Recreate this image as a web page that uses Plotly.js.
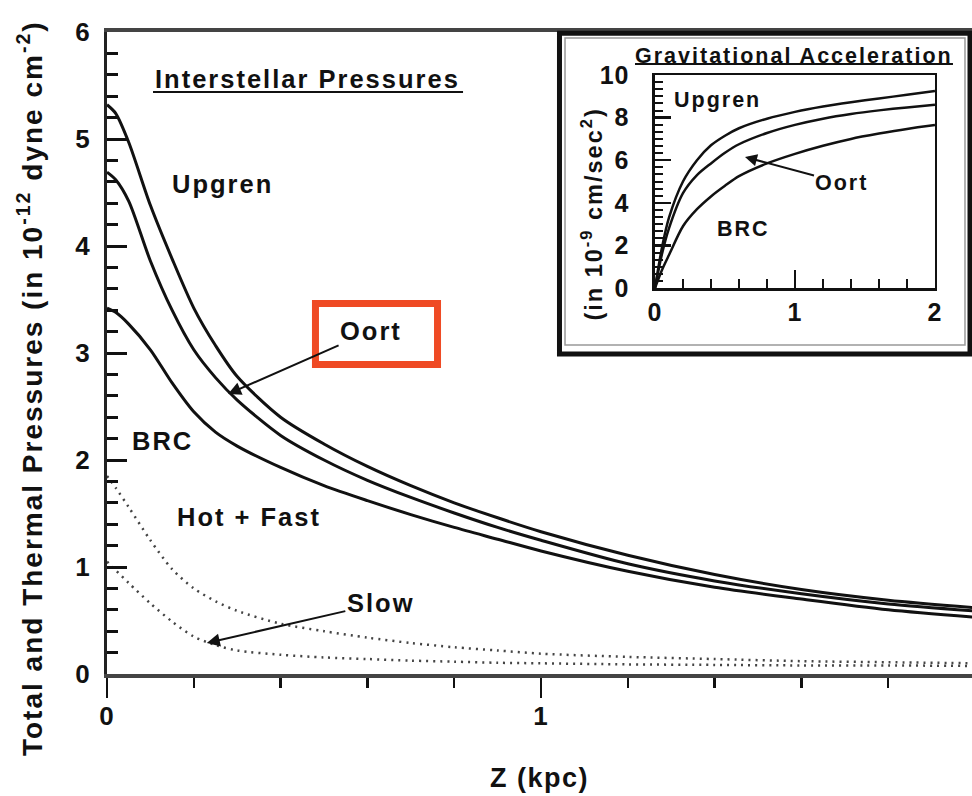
<!DOCTYPE html>
<html><head><meta charset="utf-8">
<script src="https://cdn.plot.ly/plotly-3.0.1.min.js"></script>
<style>
html,body{margin:0;padding:0;background:#fff;}
text.annotation-text{letter-spacing:2px;}
text.ytitle,text.xtitle,text.y2title{letter-spacing:1.5px;}
.xtick text,.ytick text,.x2tick text,.y2tick text{letter-spacing:1px;}
</style></head><body>
<div id="chart" style="width:972px;height:796px;"></div>
<script>
// Main panel: pressure vs height z (kpc)
const zMain   = [0, 0.02, 0.05, 0.1, 0.15, 0.2, 0.25, 0.3, 0.4, 0.5, 0.6, 0.7, 0.8, 0.9, 1.0, 1.2, 1.4, 1.6, 1.8, 2.0];
const pUpgren = [5.32, 5.24, 4.97, 4.38, 3.88, 3.42, 3.07, 2.78, 2.40, 2.15, 1.94, 1.76, 1.60, 1.46, 1.33, 1.11, 0.93, 0.79, 0.69, 0.62];
const pOort   = [4.69, 4.62, 4.42, 3.86, 3.40, 3.03, 2.77, 2.56, 2.23, 2.00, 1.81, 1.65, 1.505, 1.37, 1.25, 1.03, 0.87, 0.75, 0.655, 0.59];
const pBRC    = [3.42, 3.38, 3.27, 3.03, 2.72, 2.45, 2.26, 2.13, 1.93, 1.76, 1.62, 1.49, 1.37, 1.26, 1.15, 0.96, 0.81, 0.70, 0.60, 0.53];
const pHotFast= [1.85, 1.74, 1.56, 1.25, 0.98, 0.80, 0.68, 0.59, 0.47, 0.40, 0.34, 0.29, 0.25, 0.22, 0.19, 0.16, 0.14, 0.12, 0.11, 0.10];
const pSlow   = [1.05, 0.97, 0.85, 0.66, 0.49, 0.35, 0.27, 0.22, 0.18, 0.155, 0.14, 0.125, 0.115, 0.105, 0.10, 0.09, 0.085, 0.08, 0.08, 0.075];

// Inset: gravitational acceleration vs z (kpc)
const zInset  = [0, 0.05, 0.1, 0.2, 0.3, 0.4, 0.5, 0.6, 0.8, 1.0, 1.2, 1.4, 1.6, 1.8, 2.0];
const gUpgren = [0, 1.9, 3.3, 5.0, 6.0, 6.7, 7.15, 7.5, 7.95, 8.27, 8.52, 8.72, 8.9, 9.07, 9.25];
const gOort   = [0, 1.6, 2.8, 4.45, 5.3, 5.85, 6.35, 6.75, 7.28, 7.66, 7.95, 8.17, 8.34, 8.48, 8.6];
const gBRC    = [0, 0.85, 1.55, 2.9, 3.7, 4.3, 4.8, 5.25, 5.85, 6.3, 6.68, 7.0, 7.25, 7.47, 7.65];

const FONT = '"Liberation Sans", Arial, Helvetica, sans-serif';
const INK = '#111';

function solid(x, y, name, xa, ya, w) {
  return {x: x, y: y, name: name, type: 'scatter', mode: 'lines', xaxis: xa, yaxis: ya,
    line: {color: INK, width: w, shape: 'spline', smoothing: 0.8}, hoverinfo: 'skip'};
}
function dotted(x, y, name) {
  return {x: x, y: y, name: name, type: 'scatter', mode: 'lines', xaxis: 'x', yaxis: 'y',
    line: {color: '#444', width: 2.5, dash: '2px,5px', shape: 'spline', smoothing: 0.8}, hoverinfo: 'skip'};
}

const traces = [
  solid(zMain, pUpgren, 'Upgren', 'x', 'y', 3),
  solid(zMain, pOort, 'Oort', 'x', 'y', 3),
  solid(zMain, pBRC, 'BRC', 'x', 'y', 3),
  dotted(zMain, pHotFast, 'Hot + Fast'),
  dotted(zMain, pSlow, 'Slow'),
  solid(zInset, gUpgren, 'Upgren', 'x2', 'y2', 2.5),
  solid(zInset, gOort, 'Oort', 'x2', 'y2', 2.5),
  solid(zInset, gBRC, 'BRC', 'x2', 'y2', 2.5)
];

const tickFont = {family: FONT, size: 26, weight: 700, color: INK};
const insetTickFont = {family: FONT, size: 25, weight: 700, color: INK};

function ann(text, x, y, size, extra) {
  return Object.assign({text: text, x: x, y: y, xref: 'paper', yref: 'paper', showarrow: false,
    xanchor: 'center', yanchor: 'middle', font: {family: FONT, size: size, weight: 700, color: INK}}, extra || {});
}

const layout = {
  width: 972, height: 796,
  margin: {l: 107, r: 0, t: 32, b: 122, pad: 0},
  paper_bgcolor: '#ffffff', plot_bgcolor: 'rgba(0,0,0,0)',
  showlegend: false,
  font: {family: FONT, size: 25, color: INK},
  xaxis: {
    domain: [0, 1], range: [0, 1.993], anchor: 'y',
    showline: true, linecolor: '#444', linewidth: 4, mirror: true,
    showgrid: false, zeroline: false,
    ticks: 'outside', tick0: 0, dtick: 1, ticklen: 20, tickwidth: 2.5, tickcolor: INK,
    minor: {dtick: 0.2, ticks: 'outside', ticklen: 10, tickwidth: 2.5, tickcolor: INK, showgrid: false},
    tickfont: tickFont, ticklabelstandoff: -4,
    title: {text: 'Z (kpc)', font: {family: FONT, size: 27, weight: 700, color: INK}, standoff: 39}
  },
  yaxis: {
    domain: [0, 1], range: [0, 6], anchor: 'x',
    showline: true, linecolor: '#222', linewidth: 3, mirror: false,
    showgrid: false, zeroline: false,
    ticks: 'inside', tick0: 0, dtick: 1, ticklen: 20, tickwidth: 3, tickcolor: INK,
    minor: {dtick: 0.2, ticks: 'inside', ticklen: 11, tickwidth: 3, tickcolor: INK, showgrid: false},
    tickfont: tickFont, ticklabelstandoff: 8
  },
  xaxis2: {
    domain: [0.6335, 0.9572], range: [0, 2], anchor: 'y2',
    showline: true, linecolor: INK, linewidth: 2.5, mirror: true,
    showgrid: false, zeroline: false,
    ticks: 'inside', tick0: 0, dtick: 1, ticklen: 18, tickwidth: 2.5, tickcolor: INK,
    minor: {dtick: 0.2, ticks: 'inside', ticklen: 9, tickwidth: 2.5, tickcolor: INK, showgrid: false},
    tickfont: insetTickFont, ticklabelstandoff: 0
  },
  yaxis2: {
    domain: [0.6012, 0.9330], range: [0, 10], anchor: 'x2',
    showline: true, linecolor: INK, linewidth: 2.5, mirror: true,
    showgrid: false, zeroline: false,
    ticks: 'inside', tick0: 0, dtick: 2, ticklen: 16, tickwidth: 2.5, tickcolor: INK,
    minor: {dtick: 0.3333333, ticks: 'inside', ticklen: 8, tickwidth: 2, tickcolor: INK, showgrid: false},
    tickfont: insetTickFont, ticklabelstandoff: 18
  },
  shapes: [
    // inset frame: thick outer border and thin inner border
    {type: 'rect', xref: 'paper', yref: 'paper', x0: 0.5231, x1: 0.9977, y0: 0.4984, y1: 0.998,
     line: {color: '#111', width: 5}, layer: 'above'},
    {type: 'rect', xref: 'paper', yref: 'paper', x0: 0.5295, x1: 0.9919, y0: 0.5125, y1: 0.9907,
     line: {color: '#999', width: 1.5}, layer: 'above'},
    // title underlines
    {type: 'line', xref: 'paper', yref: 'paper', x0: 0.0532, x1: 0.4116, y0: 0.9065, y1: 0.9065,
     line: {color: INK, width: 2}},
    {type: 'line', xref: 'paper', yref: 'paper', x0: 0.6104, x1: 0.978, y0: 0.9502, y1: 0.9502,
     line: {color: INK, width: 2}},
    // orange highlight box around the Oort label
    {type: 'rect', xref: 'paper', yref: 'paper', x0: 0.2410, x1: 0.3821, y0: 0.4821, y1: 0.5771,
     line: {color: '#EF4A24', width: 7}, layer: 'above'}
  ],
  annotations: [
    // y-axis titles (placed as rotated text to match the original offset)
    ann('Total and Thermal Pressures (in 10<sup>-12</sup> dyne cm<sup>-2</sup>)', -0.089, 0.4455, 28, {textangle: -90}),
    ann('(in 10<sup>-9</sup> cm/sec<sup>2</sup>)', 0.5607, 0.7157, 23.5, {textangle: -90}),
    ann('Interstellar Pressures', 0.2318, 0.9268, 25.5),
    ann('Upgren', 0.1335, 0.7632, 25.5),
    ann('BRC', 0.0642, 0.3629, 25.5),
    ann('Hot + Fast', 0.1642, 0.2445, 25.5),
    {text: 'Slow', x: 0.23, y: 0.29, xref: 'x', yref: 'y', showarrow: true, ax: 174, ay: -40,
     arrowhead: 2, arrowsize: 1.3, arrowwidth: 2, arrowcolor: INK, standoff: 0,
     font: {family: FONT, size: 25.5, weight: 700, color: INK}},
    {text: 'Oort', x: 0.279, y: 2.617, xref: 'x', yref: 'y', showarrow: true, ax: 143, ay: -63,
     arrowhead: 2, arrowsize: 1.3, arrowwidth: 2, arrowcolor: INK, standoff: 0,
     font: {family: FONT, size: 25.5, weight: 700, color: INK}},
    ann('Gravitational Acceleration', 0.7942, 0.9626, 21.5),
    ann('Upgren', 0.7058, 0.8941, 21.5),
    ann('BRC', 0.7364, 0.6939, 21.5),
    {text: 'Oort', x: 0.643, y: 6.15, xref: 'x2', yref: 'y2', showarrow: true, ax: 97, ay: 26,
     arrowhead: 2, arrowsize: 1.2, arrowwidth: 2, arrowcolor: INK, standoff: 0,
     font: {family: FONT, size: 21.5, weight: 700, color: INK}}
  ]
};

Plotly.newPlot('chart', traces, layout, {displayModeBar: false, staticPlot: true});
</script>
</body></html>
